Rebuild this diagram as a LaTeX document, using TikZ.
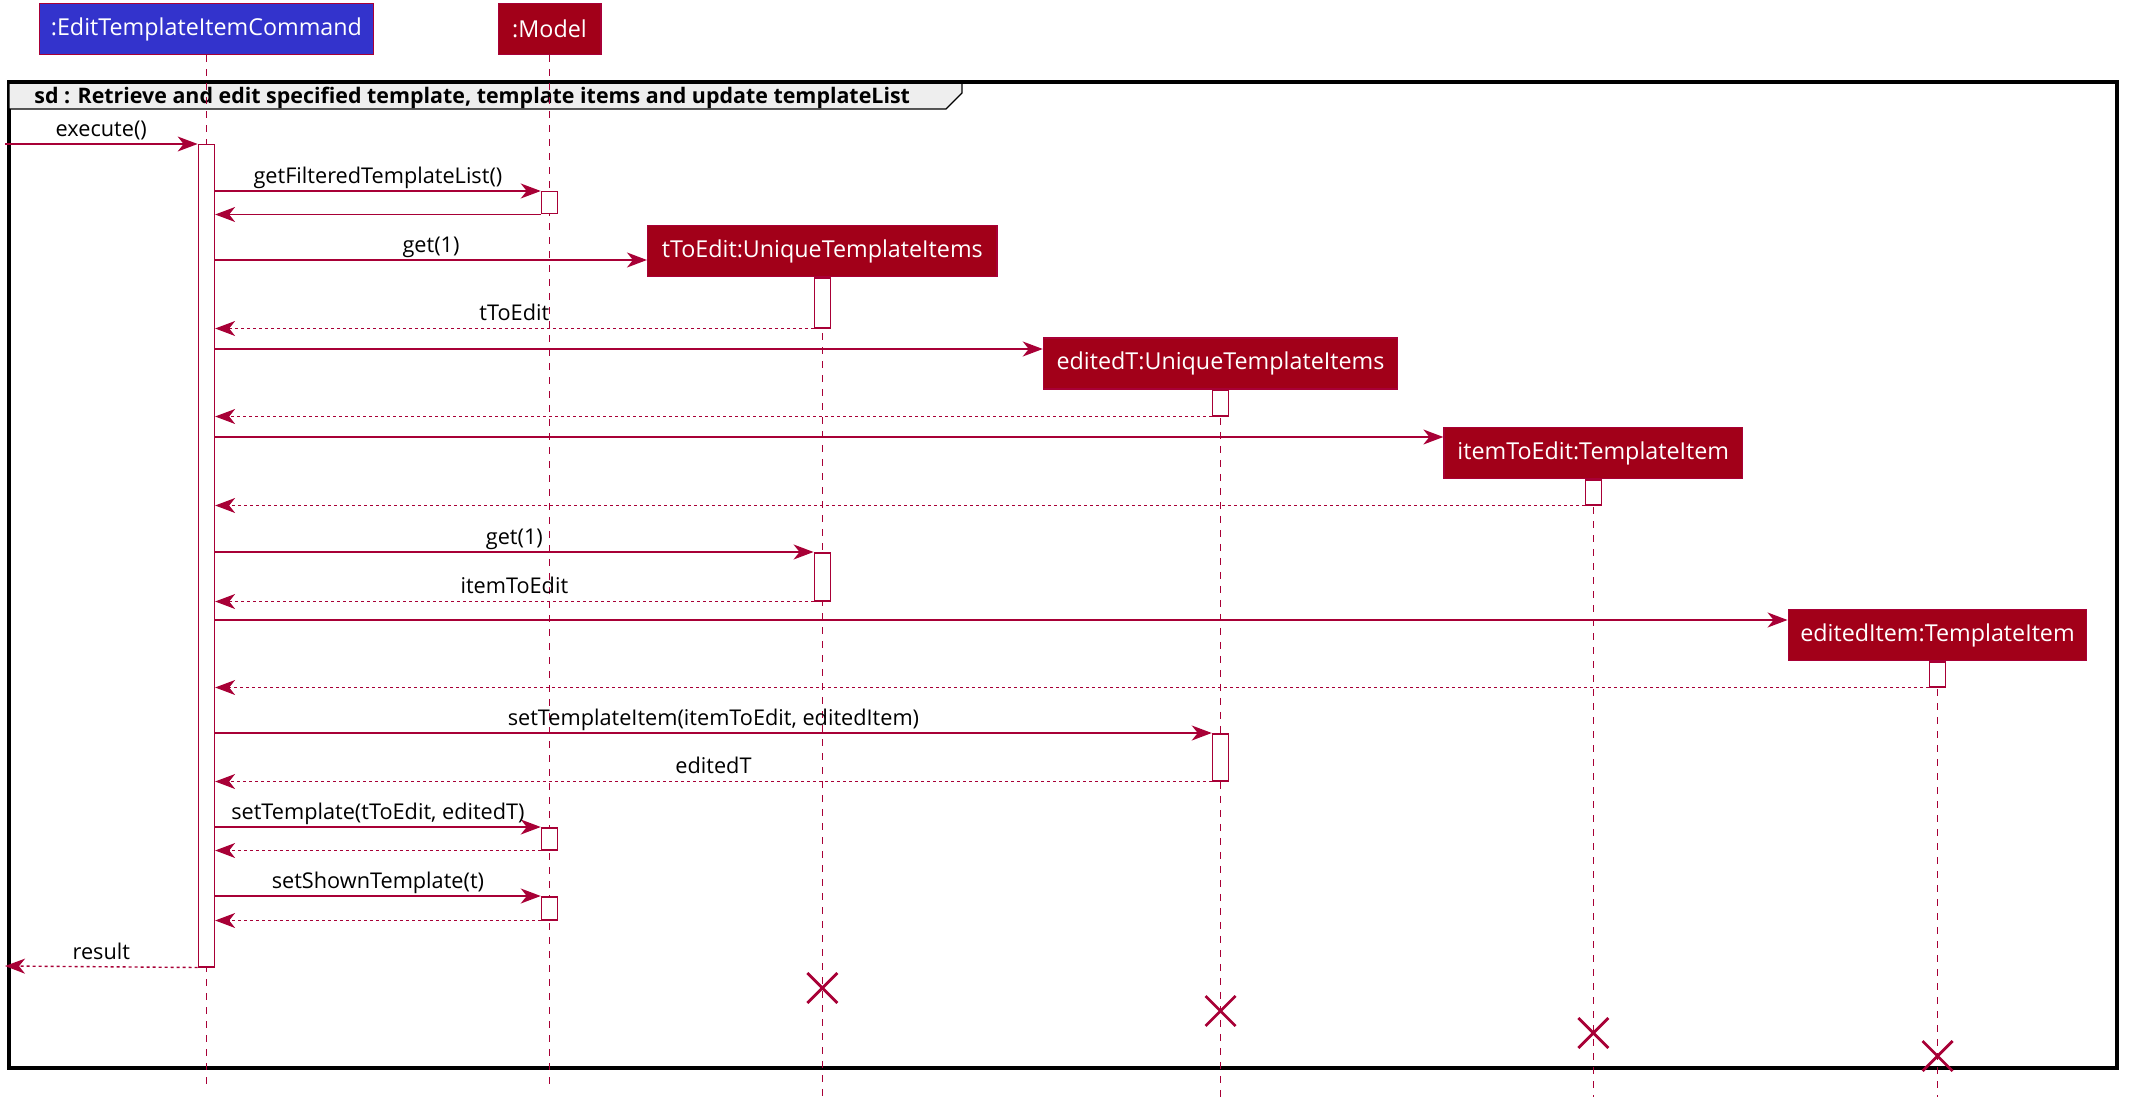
\documentclass[tikz,border=0pt]{standalone}
\usepackage{fontspec}
\setmainfont{Open Sans}
\usetikzlibrary{arrows.meta}
\definecolor{crim}{HTML}{A80036}
\definecolor{partred}{HTML}{A20019}
\definecolor{partblue}{HTML}{3333CC}
\definecolor{tabgrey}{HTML}{EEEEEE}
\tikzset{
  part/.style={draw=crim, line width=0.75pt, fill=partred, text=white,
    font=\fontsize{11.65}{14}\selectfont, minimum height=25.5pt, inner sep=0pt},
  life/.style={draw=crim, line width=0.6pt, dash pattern=on 3.5pt off 3.5pt},
  act/.style={draw=crim, line width=0.75pt, fill=white, minimum width=8pt, inner sep=0pt, anchor=north},
  msg/.style={draw=crim, line width=0.7pt, -{Stealth[length=10pt,width=7.5pt,inset=3pt]}},
  ret/.style={msg, dash pattern=on 1.5pt off 1.5pt},
  lbl/.style={anchor=base, yshift=3.8pt, inner sep=0pt, text=black, font=\fontsize{10.85}{13}\selectfont},
  killx/.style={draw=crim, line width=1.4pt}
}
\begin{document}
\begin{tikzpicture}[x=0.5pt,y=-0.5pt]
\useasboundingbox (0,0) rectangle (2133,1113);
% frame
\draw[line width=1.75pt] (9,82) rectangle (2117,1068);
\draw[fill=tabgrey, line width=0.7pt] (9,82) -- (962,82) -- (962,93) -- (946,109) -- (9,109) -- cycle;
\draw[line width=1.75pt] (9,82) -- (2117,82);
\node[anchor=base west, inner sep=0pt, font=\bfseries\fontsize{10.7}{12}\selectfont] (sd) at (34,104) {sd : Retrieve and edit specified template, template items and update templateList};

% participants
\node[part, fill=partblue, minimum width=167.1pt] (cmd) at (206.4,29) {:EditTemplateItemCommand};
\node[part, minimum width=51.25pt] (model) at (549.5,29) {:Model};
\node[part, minimum width=174.6pt] (tte) at (822.3,251) {tToEdit:UniqueTemplateItems};
\node[part, minimum width=177pt] (edt) at (1220.5,363.5) {editedT:UniqueTemplateItems};
\node[part, minimum width=149.2pt] (ite) at (1593.3,453) {itemToEdit:TemplateItem};
\node[part, minimum width=149.2pt] (eit) at (1937.5,635) {editedItem:TemplateItem};

% lifeline ends
\coordinate (cmdEnd) at (206.4,1087);
\coordinate (modelEnd) at (549.5,1087);
\coordinate (tteEnd) at (822.3,1097);
\coordinate (edtEnd) at (1220.5,1097);
\coordinate (iteEnd) at (1593.3,1097);
\coordinate (eitEnd) at (1937.5,1097);
\draw[life] (cmd.south) -- (cmdEnd);
\draw[life] (model.south) -- (modelEnd);
\draw[life] (tte.south) -- (tteEnd);
\draw[life] (edt.south) -- (edtEnd);
\draw[life] (ite.south) -- (iteEnd);
\draw[life] (eit.south) -- (eitEnd);

% activation bars
\node[act, minimum height=411pt] (a0) at (206.4,144) {};
\node[act, minimum height=11pt] (m1) at (549.5,191) {};
\node[act, minimum height=25pt] (t1) at (822.3,277) {};
\node[act, minimum height=13pt] (e1) at (1220.5,389) {};
\node[act, minimum height=12.5pt] (i1) at (1593.3,479) {};
\node[act, minimum height=24pt] (t2) at (822.3,552) {};
\node[act, minimum height=12.5pt] (d1) at (1937.5,661) {};
\node[act, minimum height=23.5pt] (e2) at (1220.5,733) {};
\node[act, minimum height=11pt] (m2) at (549.5,827) {};
\node[act, minimum height=11.5pt] (m3) at (549.5,896) {};

% message rows
\coordinate (src) at (5,144);
\coordinate (sink) at (5,966);
\coordinate (r4) at (0,260);
\coordinate (r6) at (0,349);
\coordinate (r8) at (0,437);
\coordinate (r12) at (0,620);

\draw[msg] (src) -- node[lbl] {execute()} (a0.north west);
\draw[msg] (a0.east |- m1.north) -- node[lbl] {getFilteredTemplateList()} (m1.north west);
\draw[msg] (m1.south west) -- (a0.east |- m1.south);
\draw[msg] (a0.east |- r4) -- node[lbl] {get(1)} (tte.west |- r4);
\draw[ret] (t1.south west) -- node[lbl] {tToEdit} (a0.east |- t1.south);
\draw[msg] (a0.east |- r6) -- (edt.west |- r6);
\draw[ret] (e1.south west) -- (a0.east |- e1.south);
\draw[msg] (a0.east |- r8) -- (ite.west |- r8);
\draw[ret] (i1.south west) -- (a0.east |- i1.south);
\draw[msg] (a0.east |- t2.north) -- node[lbl] {get(1)} (t2.north west);
\draw[ret] (t2.south west) -- node[lbl] {itemToEdit} (a0.east |- t2.south);
\draw[msg] (a0.east |- r12) -- (eit.west |- r12);
\draw[ret] (d1.south west) -- (a0.east |- d1.south);
\draw[msg] (a0.east |- e2.north) -- node[lbl] {setTemplateItem(itemToEdit, editedItem)} (e2.north west);
\draw[ret] (e2.south west) -- node[lbl] {editedT} (a0.east |- e2.south);
\draw[msg] (a0.east |- m2.north) -- node[lbl] {setTemplate(tToEdit, editedT)} (m2.north west);
\draw[ret] (m2.south west) -- (a0.east |- m2.south);
\draw[msg] (a0.east |- m3.north) -- node[lbl] {setShownTemplate(t)} (m3.north west);
\draw[ret] (m3.south west) -- (a0.east |- m3.south);
\draw[ret] (a0.south west) -- node[lbl] {result} (sink);

% destroy marks
\foreach \xx/\yy in {822.3/988, 1220.5/1011, 1593.3/1033, 1937.5/1056}{
  \draw[killx] (\xx-15,\yy-15) -- (\xx+15,\yy+15) (\xx-15,\yy+15) -- (\xx+15,\yy-15);
}
\end{tikzpicture}
\end{document}
